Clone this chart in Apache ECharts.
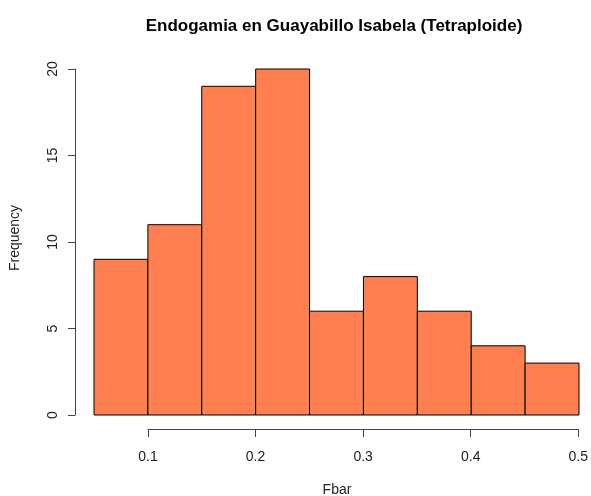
<!DOCTYPE html>
<html>
<head>
<meta charset="utf-8">
<script src="https://cdn.jsdelivr.net/npm/echarts@6/dist/echarts.min.js"></script>
<style>
html,body{margin:0;padding:0;background:#fff;}
#chart{width:591px;height:496px;}
</style>
</head>
<body>
<div id="chart"></div>
<script>
const titleText = 'Endogamia en Guayabillo Isabela (Tetraploide)';
const xLabel = 'Fbar';
const yLabel = 'Frequency';
const breaks = [0.05, 0.10, 0.15, 0.20, 0.25, 0.30, 0.35, 0.40, 0.45, 0.50];
const counts = [9, 11, 19, 20, 6, 8, 6, 4, 3];
const xTicks = [0.1, 0.2, 0.3, 0.4, 0.5];
const yTicks = [0, 5, 10, 15, 20];

const barData = counts.map((c, i) => [breaks[i], breaks[i + 1], c]);
const font = 'Liberation Sans, Arial, Helvetica, sans-serif';

const chart = echarts.init(document.getElementById('chart'), null, {renderer: 'canvas'});
chart.setOption({
  backgroundColor: '#ffffff',
  animation: false,
  title: {
    text: titleText,
    left: 329, top: 13, textAlign: 'center',
    textStyle: {fontFamily: font, fontSize: 17, fontWeight: 'bold', color: '#000'}
  },
  grid: [
    {left: 94, right: 12, top: 69, bottom: 81},
    {left: 148, right: 12, top: 300, bottom: 67}
  ],
  xAxis: [
    {type: 'value', gridIndex: 0, min: breaks[0], max: breaks[breaks.length - 1], show: false},
    {type: 'value', gridIndex: 1, min: xTicks[0], max: xTicks[xTicks.length - 1], interval: 0.1,
     axisLine: {show: true, lineStyle: {color: '#444', width: 1}},
     axisTick: {show: true, length: 8, lineStyle: {color: '#444'}},
     axisLabel: {margin: 21, fontFamily: font, fontSize: 14, color: '#222',
       formatter: v => String(+v.toFixed(1))},
     splitLine: {show: false}}
  ],
  yAxis: [
    {type: 'value', gridIndex: 0, min: yTicks[0], max: yTicks[yTicks.length - 1], interval: 5, offset: 19,
     axisLine: {show: true, lineStyle: {color: '#444', width: 1}},
     axisTick: {show: true, length: 7, lineStyle: {color: '#444'}},
     axisLabel: {rotate: 90, margin: 15, fontFamily: font, fontSize: 14, color: '#222'},
     splitLine: {show: false}},
    {type: 'value', gridIndex: 1, show: false}
  ],
  graphic: [
    {type: 'text', x: 337, y: 490, style: {text: xLabel, textAlign: 'center', textVerticalAlign: 'middle', fontFamily: font, fontSize: 14, fill: '#222'}},
    {type: 'text', rotation: Math.PI / 2, x: 15, y: 238, style: {text: yLabel, textAlign: 'center', textVerticalAlign: 'middle', fontFamily: font, fontSize: 14, fill: '#222'}}
  ],
  series: [{
    type: 'custom',
    xAxisIndex: 0, yAxisIndex: 0,
    data: barData,
    renderItem: function (params, api) {
      const p0 = api.coord([api.value(0), api.value(2)]);
      const p1 = api.coord([api.value(1), 0]);
      return {
        type: 'rect',
        shape: {x: p0[0], y: p0[1], width: p1[0] - p0[0], height: p1[1] - p0[1]},
        style: {fill: '#FF7F50', stroke: '#000', lineWidth: 1}
      };
    }
  }]
});
</script>
</body>
</html>
